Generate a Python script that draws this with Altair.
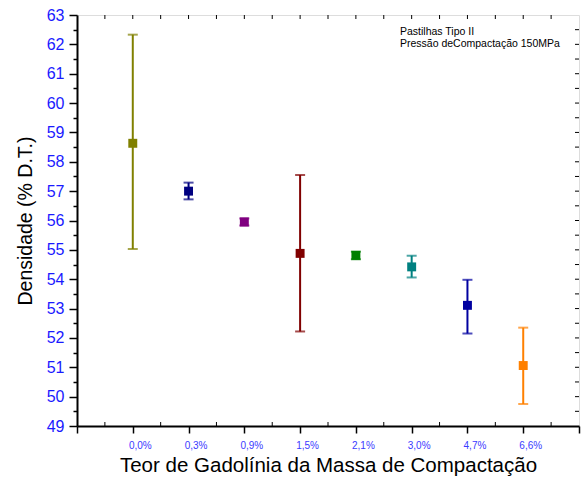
import altair as alt
import pandas as pd

labels = ["0,0%", "0,3%", "0,9%", "1,5%", "2,1%", "3,0%", "4,7%", "6,6%"]
positions = [1, 2, 3, 4, 5, 6, 7, 8]
means = [58.63, 57.00, 55.95, 54.88, 54.81, 54.42, 53.11, 51.06]
uppers = [62.33, 57.29, 56.07, 57.55, 54.94, 54.80, 53.98, 52.35]
lowers = [55.03, 56.72, 55.83, 52.22, 54.68, 54.06, 52.15, 49.75]
colors = ["#808000", "#000080", "#800080", "#800000", "#008000", "#008080", "#0000A0", "#FF8000"]

note_lines = ["Pastilhas Tipo II", "Pressão deCompactação 150MPa"]
note_x = [5.79, 5.79]
note_y = [62.43, 62.01]

df = pd.DataFrame({"pos": positions, "label": labels, "mean": means,
                   "upper": uppers, "lower": lowers, "color": colors})
notes = pd.DataFrame({"text": note_lines, "x": note_x, "y": note_y})

W, H = 502, 411
FONT = "Liberation Sans"

label_expr = "{" + ",".join(f"'{p}':'{l}'" for p, l in zip(positions, labels)) + "}[datum.value] || ''"

xscale = alt.Scale(domain=[0, 9], nice=False, zero=False)
yscale = alt.Scale(domain=[49, 63], nice=False, zero=False)

xaxis = alt.Axis(values=list(range(0, 10)), labelExpr=label_expr, title="Teor de Gadolínia da Massa de Compactação",
                 labelColor="#3a3aff", labelFontSize=10, labelFont=FONT, tickSize=7, tickWidth=1.5, tickColor="black",
                 domainColor="black", domainWidth=2, titleFont=FONT, titleFontSize=20.5, titleFontWeight="normal",
                 titleColor="black", titlePadding=5, labelPadding=7, labelOffset=7, grid=False, labelOverlap=False)
yaxis = alt.Axis(values=[49 + 0.5 * i for i in range(29)],
                 labelExpr="datum.value % 1 == 0 ? datum.value : ''",
                 tickSize={"condition": {"test": "datum.value % 1 == 0", "value": 8}, "value": 4},
                 title="Densidade (% D.T.)", labelColor="#1a1aff", labelFontSize=16, labelFont=FONT,
                 tickWidth=1.5, tickColor="black", domainColor="black", domainWidth=2, titleFont=FONT,
                 titleFontSize=19.5, titleFontWeight="normal", titleColor="black", titlePadding=11,
                 labelPadding=5, grid=False, labelOverlap=False)


def X(field):
    return alt.X(field, scale=xscale, axis=xaxis)


def Y(field):
    return alt.Y(field, scale=yscale, axis=yaxis)


base = alt.Chart(df)
color_enc = alt.Color("color:N", scale=None)

bars = base.mark_rule(strokeWidth=2).encode(
    x=X("pos:Q"), y=Y("lower:Q"), y2="upper:Q", color=color_enc)
cap_hi = base.mark_tick(thickness=2, size=10, orient="horizontal").encode(
    x=X("pos:Q"), y=Y("upper:Q"), color=color_enc)
cap_lo = base.mark_tick(thickness=2, size=10, orient="horizontal").encode(
    x=X("pos:Q"), y=Y("lower:Q"), color=color_enc)
pts = base.mark_square(size=80, opacity=1).encode(
    x=X("pos:Q"), y=Y("mean:Q"), color=color_enc)

# inward minor ticks on the frame
half_x = pd.DataFrame({"v": [0.5 * i for i in range(1, 18)]})
half_y = pd.DataFrame({"v": [49 + 0.5 * i for i in range(1, 28)]})
top_ticks = alt.Chart(half_x).mark_rule(color="black", strokeWidth=1).encode(
    x=X("v:Q"), y=alt.value(0), y2=alt.value(4))
bot_ticks = alt.Chart(half_x).transform_filter("datum.v % 1 != 0").mark_rule(color="black", strokeWidth=1).encode(
    x=X("v:Q"), y=alt.value(H), y2=alt.value(H - 4))
right_ticks = alt.Chart(half_y).mark_rule(color="black", strokeWidth=1).encode(
    y=Y("v:Q"), x=alt.value(W), x2=alt.value(W - 4))

note = alt.Chart(notes).mark_text(align="left", baseline="middle", font=FONT, fontSize=10.5, color="black").encode(
    x=X("x:Q"), y=Y("y:Q"), text="text:N")

chart = alt.layer(bars, cap_hi, cap_lo, pts, top_ticks, bot_ticks, right_ticks, note).properties(
    width=W, height=H,
    autosize=alt.AutoSizeParams(type="none"),
    padding={"left": 77, "top": 15, "right": 2, "bottom": 52},
).configure_view(stroke="black", strokeWidth=1.5).configure_axis(labelOverlap=False).configure(background="white")

chart.save("out.html", embed_options={"renderer": "svg", "actions": False})
